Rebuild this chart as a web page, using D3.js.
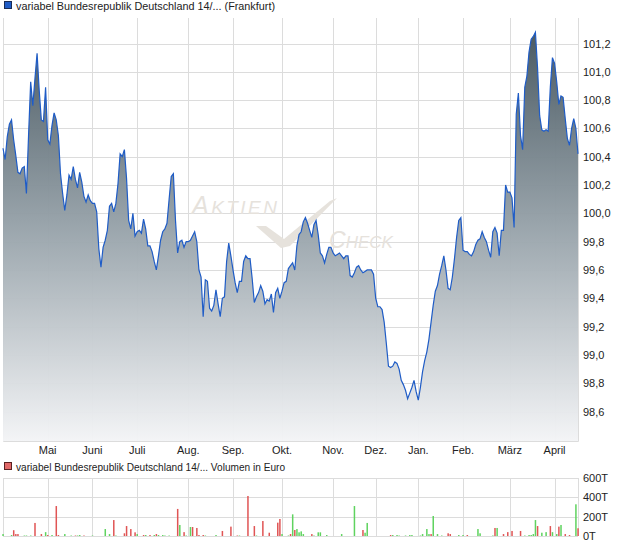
<!DOCTYPE html>
<html><head><meta charset="utf-8">
<script src="https://cdn.jsdelivr.net/npm/d3@7"></script>
<style>
html,body{margin:0;padding:0;background:#fff;}
svg text{font-family:"Liberation Sans",Arial,sans-serif;}
</style></head>
<body>
<svg id="c" width="620" height="546"></svg>
<script>
// ---- data (trading-day index based) ----
const priceValues = [
100.46,100.38,100.54,100.63,100.66,100.52,100.41,100.29,100.28,100.32,
100.33,100.14,100.55,100.93,100.76,100.95,101.13,100.87,100.66,100.65,
100.89,100.52,100.49,100.62,100.71,100.66,100.55,100.28,100.14,100.02,
100.13,100.27,100.24,100.33,100.24,100.18,100.29,100.22,100.12,100.08,
100.13,100.09,100.07,100.07,100.01,99.75,99.62,99.76,99.81,99.88,
100.05,100.07,100.01,100.07,100.21,100.42,100.40,100.45,100.25,99.95,
99.89,100.00,99.84,99.87,99.88,99.86,99.96,99.89,99.77,
99.77,99.73,99.66,99.60,99.70,99.81,99.87,99.89,99.93,100.10,
100.26,100.28,99.95,99.72,99.80,99.81,99.76,99.80,99.80,99.81,
99.84,99.87,99.80,99.60,99.55,99.27,99.53,99.52,99.33,99.31,
99.35,99.46,99.36,99.27,99.40,99.41,99.66,99.79,99.70,99.60,
99.51,99.44,99.52,99.52,99.66,99.70,99.68,99.68,99.54,99.37,
99.41,99.44,99.49,99.45,99.36,99.39,99.38,99.43,99.30,99.44,
99.47,99.40,99.45,99.51,99.52,99.61,99.63,99.65,
99.60,99.77,99.85,99.87,99.94,99.97,99.93,99.88,99.83,99.92,
99.95,99.85,99.72,99.70,99.65,99.71,99.76,99.76,99.72,99.70,
99.71,99.72,99.70,99.68,99.70,99.70,99.56,99.55,99.58,99.62,
99.63,99.60,99.58,99.59,99.60,99.60,99.60,99.57,99.40,99.34,
99.34,99.32,99.23,99.08,98.92,98.91,98.92,98.95,98.94,98.90,
98.82,98.79,98.75,98.69,98.73,98.77,98.82,98.74,98.68,98.77,
98.88,98.96,99.02,99.11,99.23,99.35,99.45,99.49,99.57,
99.63,99.70,99.60,99.47,99.46,99.55,99.68,99.83,99.95,99.97,
99.74,99.73,99.73,99.71,99.70,99.73,99.78,99.81,99.82,99.87,
99.83,99.80,99.74,99.69,99.87,99.90,99.86,99.70,99.88,99.88,
100.20,100.15,100.15,100.11,99.90,100.70,100.85,100.55,100.45,100.89,
100.97,101.14,101.23,101.25,101.28,101.03,100.69,100.59,100.58,100.59,
100.58,100.89,101.10,101.06,100.93,100.77,100.83,100.82,100.67,100.53,
100.48,100.60,100.67,100.60,100.42
];
const monthLabels = ["Mai","Juni","Juli","Aug.","Sep.","Okt.","Nov.","Dez.","Jan.","Feb.","März","April"];
const monthStart  = [21,42,63,87,108,131,155,175,195,216,238,259];
const priceTicks = [98.6,98.8,99.0,99.2,99.4,99.6,99.8,100.0,100.2,100.4,100.6,100.8,101.0,101.2];
const volumeTicks = [0,200,400,600];
// volume bars (thousand EUR): day index, value, up(1)/down(0)
const volDay   = [0,4,5,6,7,10,11,13,15,18,20,21,23,25,26,29,32,34,35,36,38,42,48,50,52,53,57,58,60,62,63,66,67,69,71,72,73,75,76,78,82,83,85,86,88,89,91,92,94,95,100,103,107,110,111,115,118,119,122,125,129,130,131,134,135,136,137,138,139,140,141,145,146,148,149,152,159,165,169,170,171,182,183,185,186,189,191,192,196,197,199,200,201,202,204,206,209,210,214,216,218,223,224,230,231,232,235,237,239,243,245,247,248,249,250,251,253,255,257,258,260,261,262,264,266,269,270];
const volValue = [20,10,60,20,20,5,5,5,135,20,40,10,10,310,10,20,5,5,5,10,5,5,72,20,165,5,28,103,72,38,20,10,10,10,10,20,10,10,5,5,280,114,40,5,93,93,83,10,10,5,10,52,97,5,5,414,103,5,155,34,138,176,20,5,20,224,62,72,38,48,20,20,5,38,38,10,20,310,62,34,135,10,10,10,5,5,10,10,5,20,72,20,20,207,20,5,28,20,10,10,10,72,28,5,83,83,20,40,52,52,5,10,10,20,165,103,34,40,103,40,20,97,114,20,10,328,80];
const volUp    = [1,1,0,0,0,1,1,1,0,0,1,0,1,0,0,1,1,0,1,1,0,1,1,1,0,1,0,0,0,0,1,0,1,0,1,0,1,1,1,1,0,1,0,1,1,0,0,0,0,1,1,0,0,0,1,0,0,1,0,0,0,0,1,1,0,1,0,1,1,1,1,0,1,1,1,1,1,1,0,1,1,0,1,1,1,1,1,1,1,1,1,1,0,1,1,1,0,0,1,1,0,1,1,1,0,1,0,0,0,0,1,1,1,1,1,0,1,1,0,1,1,0,1,0,0,1,0];

const titleMain = "variabel Bundesrepublik Deutschland 14/... (Frankfurt)";
const titleVol  = "variabel Bundesrepublik Deutschland 14/... Volumen in Euro";

// ---- layout ----
const svg = d3.select("#c");
const L = 3, R = 578, T = 18, B = 441;
const VT = 478, VB = 536;
const grid = "#dcdcdc";
const fmt = v => d3.format(".1f")(v).replace(".", ",");

const x = d3.scaleLinear().domain([0, priceValues.length - 1]).range([L, R]);
const y = d3.scaleLinear().domain([98.6, 101.2]).range([411.5, 43.5]);
const yv = d3.scaleLinear().domain([0, 600]).range([VB, VT]);

// legends
function legend(yy, color, border, text) {
  svg.append("rect").attr("x", 4.5).attr("y", yy - 8.5).attr("width", 7).attr("height", 7)
    .attr("fill", color).attr("stroke", border).attr("stroke-width", 1);
  svg.append("text").attr("x", 16).attr("y", yy).attr("font-size", 11).attr("fill", "#222")
    .attr("textLength", yy < 100 ? 259 : 269).attr("lengthAdjust", "spacingAndGlyphs").text(text);
}
legend(10, "#1f5cc6", "#1a2c55", titleMain);
legend(471, "#e06868", "#5a2020", titleVol);

// ---- main panel grid ----
const gMain = svg.append("g");
gMain.selectAll("line.h").data(priceTicks).join("line")
  .attr("x1", L).attr("x2", R).attr("y1", d => Math.round(y(d)) + 0.5).attr("y2", d => Math.round(y(d)) + 0.5)
  .attr("stroke", grid);
gMain.selectAll("line.v").data(monthStart).join("line")
  .attr("x1", d => Math.round(x(d)) + 0.5).attr("x2", d => Math.round(x(d)) + 0.5)
  .attr("y1", T).attr("y2", B).attr("stroke", grid);
gMain.append("path").attr("d", `M${L+0.5},${T}V${B+0.5}H${R+0.5}V${T}`)
  .attr("fill", "none").attr("stroke", grid);

// watermark
const wm = svg.append("g").attr("fill", "#e6e2dc").attr("font-style", "italic");
const t1 = wm.append("text").attr("x", 192).attr("y", 214).attr("textLength", 85).attr("lengthAdjust", "spacing");
t1.append("tspan").attr("font-size", 25).text("A");
t1.append("tspan").attr("font-size", 19).text("KTIEN");
const t2 = wm.append("text").attr("x", 329).attr("y", 248);
t2.append("tspan").attr("font-size", 23).text("C");
t2.append("tspan").attr("font-size", 17).text("HECK");
wm.append("path").attr("d", "M256,226 L266,226 L284,239 L330,201 L337,198 L290,246 L281,248 Z");

// gradient
const defs = svg.append("defs");
const gr = defs.append("linearGradient").attr("id", "fillg").attr("gradientUnits", "userSpaceOnUse")
  .attr("x1", 0).attr("x2", 0).attr("y1", 30).attr("y2", B);
gr.append("stop").attr("offset", 0).attr("stop-color", "#45555e");
gr.append("stop").attr("offset", 0.5).attr("stop-color", "#9ba6ad");
gr.append("stop").attr("offset", 1).attr("stop-color", "#f3f4f6");

const area = d3.area().x((d, i) => x(i)).y0(B).y1(d => y(d));
const line = d3.line().x((d, i) => x(i)).y(d => y(d));
svg.append("path").datum(priceValues).attr("d", area).attr("fill", "url(#fillg)").attr("opacity", 0.97);
svg.append("path").datum(priceValues).attr("d", line).attr("fill", "none")
  .attr("stroke", "#1f5cc6").attr("stroke-width", 1.2);

// y axis labels
svg.append("g").selectAll("text").data(priceTicks).join("text")
  .attr("x", 583).attr("y", d => y(d) + 4).attr("font-size", 11).attr("fill", "#222").text(fmt);

// x axis labels
svg.append("g").selectAll("text").data(monthStart).join("text")
  .attr("x", d => x(d)).attr("y", 454).attr("text-anchor", "middle").attr("font-size", 11).attr("fill", "#222")
  .text((d, i) => monthLabels[i]);

// ---- volume panel ----
const gVol = svg.append("g");
gVol.selectAll("line.h").data(volumeTicks).join("line")
  .attr("x1", L).attr("x2", R).attr("y1", d => Math.round(yv(d)) + 0.5).attr("y2", d => Math.round(yv(d)) + 0.5)
  .attr("stroke", grid);
gVol.selectAll("line.v").data(monthStart).join("line")
  .attr("x1", d => Math.round(x(d)) + 0.5).attr("x2", d => Math.round(x(d)) + 0.5)
  .attr("y1", VT).attr("y2", VB).attr("stroke", grid);
gVol.append("path").attr("d", `M${L+0.5},${VT}V${VB}M${R+0.5},${VT}V${VB}`).attr("stroke", grid);

gVol.selectAll("rect.bar").data(volDay).join("rect")
  .attr("x", d => x(d) - 0.7).attr("width", 1.5)
  .attr("y", (d, i) => yv(volValue[i])).attr("height", (d, i) => VB - yv(volValue[i]))
  .attr("fill", (d, i) => volUp[i] ? "#5fd35f" : "#e05555");

svg.append("g").selectAll("text").data(volumeTicks).join("text")
  .attr("x", 583).attr("y", d => yv(d) + 4).attr("font-size", 11).attr("fill", "#222").text(d => d + "T");
</script>
</body></html>
